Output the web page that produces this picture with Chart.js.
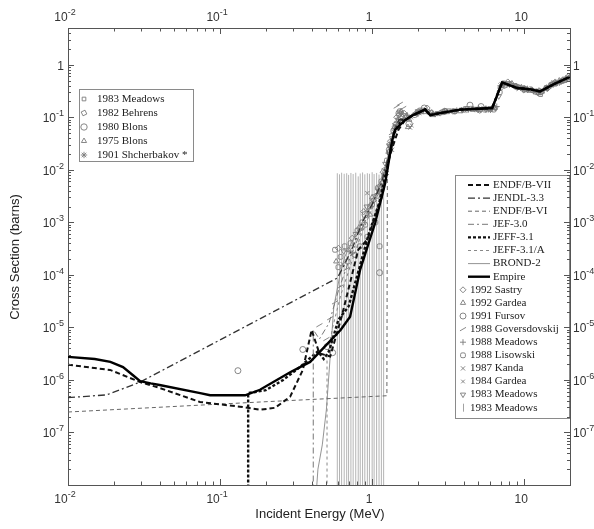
<!DOCTYPE html>
<html>
<head>
<meta charset="utf-8">
<script src="https://cdn.jsdelivr.net/npm/chart.js@4.4.0/dist/chart.umd.min.js"></script>
<style>
  body { margin: 0; background: #fff; }
</style>
</head>
<body>
<canvas id="xsChart" width="594" height="529"></canvas>
<script>
// axis ranges and tick decades
const xMin = 0.01, xMax = 20;
const yMin = 1e-8, yMax = 5;
const xDecades = [0.01, 0.1, 1, 10];
const yDecades = [1e-8, 1e-7, 1e-6, 1e-5, 1e-4, 1e-3, 1e-2, 1e-1, 1];
const xLabels = [['10', '-2'], ['10', '-1'], ['1', ''], ['10', '']];
const yLabels = [null, ['10', '-7'], ['10', '-6'], ['10', '-5'], ['10', '-4'], ['10', '-3'], ['10', '-2'], ['10', '-1'], ['1', '']];

// evaluations: [energy MeV, cross section b]; all share the high energy part
const tail = [[1.65, 0.089], [1.86, 0.11], [2.05, 0.125], [2.23, 0.14], [2.41, 0.11], [2.8, 0.12],
  [3.8, 0.14], [5.0, 0.145], [6.16, 0.15], [7.16, 0.46], [9.0, 0.36], [11.0, 0.34], [12.7, 0.31],
  [15.5, 0.42], [20.0, 0.59]];
const endfb7 = [[0.01, 1.95e-6], [0.0189, 1.55e-6], [0.0298, 9.1e-7], [0.0403, 7e-7], [0.0738, 3.8e-7],
  [0.135, 3.1e-7], [0.183, 2.7e-7], [0.23, 2.95e-7], [0.289, 4.8e-7], [0.35, 1.55e-6], [0.40, 8.9e-6],
  [0.45, 3.2e-6], [0.53, 2.8e-6], [0.63, 1.6e-5], [0.81, 3e-4], [0.93, 4.7e-4], [1.16, 3.1e-3],
  [1.31, 1.95e-2], [1.49, 5.8e-2]];
const jendl33 = [[0.01, 4.6e-7], [0.018, 5.2e-7], [0.0298, 9.1e-7], [0.59, 8.7e-5], [0.66, 1.6e-4],
  [0.75, 3.5e-4], [0.86, 1e-3], [1.0, 2.2e-3], [1.15, 5.5e-3], [1.28, 1.8e-2], [1.38, 5e-2], [1.5, 9e-2]];
const endfb6 = [[0.01, 2.45e-7], [0.183, 3.8e-7], [1.25, 5e-7], [1.26, 2.4e-2], [1.35, 4.5e-2], [1.45, 8e-2]];
const jef30 = [[0.41, 1e-9], [0.41, 9e-6], [0.45, 6e-6], [0.52, 1.2e-5], [0.6, 5e-5], [0.7, 1.8e-4],
  [0.82, 5.5e-4], [0.95, 1.5e-3], [1.1, 4.5e-3], [1.25, 1.4e-2], [1.38, 4.5e-2], [1.5, 8.5e-2]];
const jeff31 = [[0.153, 1e-9], [0.153, 5.6e-7], [0.2, 6.4e-7], [0.26, 1e-6], [0.33, 1.7e-6], [0.39, 2.6e-6],
  [0.44, 3.5e-6], [0.48, 2.5e-6], [0.52, 3.5e-6], [0.6, 1.4e-5], [0.7, 2.5e-5], [0.8, 1e-4],
  [0.95, 6e-4], [1.12, 2.5e-3], [1.28, 1.5e-2], [1.4, 5e-2], [1.55, 9e-2]];
const jeff31a = [[0.505, 1e-9], [0.505, 2.8e-6], [0.55, 1e-5], [0.62, 4e-5], [0.72, 1.5e-4], [0.85, 6e-4],
  [1.0, 1.8e-3], [1.15, 5e-3], [1.3, 2e-2], [1.42, 6e-2], [1.55, 9e-2]];
const brond2 = [[0.409, 1e-9], [0.44, 2e-8], [0.47, 5.8e-8], [0.5, 2.7e-7], [0.53, 2.8e-6], [0.56, 2.5e-5],
  [0.61, 9e-5], [0.66, 2.2e-4], [0.78, 6e-4], [0.9, 1.3e-3], [1.05, 3e-3], [1.2, 9e-3], [1.32, 3e-2],
  [1.45, 8e-2]];
const empire = [[0.01, 2.75e-6], [0.015, 2.5e-6], [0.019, 2.2e-6], [0.023, 1.75e-6], [0.027, 1.2e-6],
  [0.0298, 9.5e-7], [0.035, 8.6e-7], [0.04, 8e-7], [0.074, 5.6e-7], [0.086, 5.1e-7], [0.146, 5.1e-7],
  [0.183, 6.5e-7], [0.289, 1.4e-6], [0.391, 2.2e-6], [0.62, 8.9e-6], [0.716, 1.6e-5], [0.834, 1.26e-4],
  [1.047, 9.8e-4], [1.219, 5.6e-3], [1.356, 3.7e-2], [1.417, 5.8e-2]];

// measurements
const sastry92 = [[0.6, 3.2e-4], [0.74, 5e-4], [0.88, 1.6e-3], [1.02, 2.6e-3], [1.18, 9e-3], [1.32, 3.5e-2],
  [1.45, 0.1], [1.62, 0.12], [1.95, 0.12], [2.3, 0.15], [2.8, 0.12], [3.4, 0.13], [4.2, 0.14], [5.1, 0.135],
  [6.0, 0.14], [6.3, 0.16], [7.0, 0.36], [7.8, 0.47], [8.8, 0.39], [10.0, 0.36], [11.2, 0.33], [12.5, 0.32],
  [14.2, 0.35], [16.0, 0.47], [18.0, 0.52], [19.5, 0.6]];
const gardea92 = [[0.58, 1.8e-4], [0.7, 3e-4], [0.82, 8e-4], [0.97, 1.4e-3], [1.12, 5e-3], [1.28, 2.2e-2],
  [1.4, 6.5e-2], [1.55, 0.13], [1.75, 0.09], [2.1, 0.13], [2.5, 0.11], [3.1, 0.125], [3.8, 0.13],
  [4.6, 0.14], [5.6, 0.145], [6.4, 0.15], [7.2, 0.43], [8.3, 0.44], [9.6, 0.37], [11.0, 0.32], [12.4, 0.29],
  [13.8, 0.35], [15.2, 0.44], [17.0, 0.5], [18.8, 0.55]];
const fursov91 = [[0.131, 1.5e-6], [0.35, 3.8e-6], [0.505, 4.3e-6], [0.55, 3.3e-6], [1.12, 1.1e-4],
  [1.5, 0.12], [2.2, 0.15], [3.0, 0.13], [4.4, 0.17], [5.2, 0.16]];
const goversdovskij88 = [[0.45, 1.1e-5], [0.5, 6e-6], [0.53, 1.5e-5], [0.57, 3e-5], [0.62, 6e-5], [0.68, 1.3e-4],
  [0.75, 2.5e-4], [0.85, 7e-4], [0.95, 1.8e-3], [1.05, 3.5e-3], [1.2, 1.1e-2], [1.35, 5e-2], [1.45, 0.16],
  [1.5, 0.1], [1.52, 0.18], [1.6, 0.15], [1.8, 0.11], [2.2, 0.14], [2.6, 0.12]];
const meadows88 = [[1.3, 3e-2], [1.45, 8e-2], [1.7, 0.11], [2.0, 0.115], [2.5, 0.12], [3.0, 0.13], [3.6, 0.135],
  [4.3, 0.14], [5.0, 0.15], [5.8, 0.14], [6.6, 0.16], [7.0, 0.38], [7.6, 0.42], [8.5, 0.4], [9.5, 0.36],
  [10.5, 0.35], [12.0, 0.3], [13.5, 0.33], [15.0, 0.4], [17.0, 0.45], [19.0, 0.52]];
const lisowski88 = [[0.57, 3e-4], [0.6, 1.4e-4], [0.62, 2.2e-4], [0.66, 3.5e-4], [0.69, 1.8e-4], [0.72, 4e-4],
  [0.77, 2.4e-4], [0.8, 7e-4], [0.83, 3.5e-4], [0.86, 1e-3], [0.9, 9e-4], [0.93, 5.3e-4], [0.97, 2e-3],
  [1.0, 2.2e-3], [1.05, 1e-3], [1.08, 3.2e-3], [1.12, 3.5e-4], [1.15, 6e-3], [1.25, 1.5e-2],
  [1.38, 5.5e-2], [1.52, 0.13], [1.68, 0.1], [1.9, 0.11], [2.2, 0.13], [2.45, 0.12], [2.9, 0.125],
  [3.5, 0.13], [4.5, 0.145], [5.5, 0.14], [6.3, 0.14], [6.9, 0.3], [7.3, 0.44], [8.0, 0.43], [9.0, 0.38],
  [10.0, 0.34], [11.0, 0.34], [12.5, 0.3], [14.0, 0.36], [16.0, 0.44], [18.0, 0.5], [20.0, 0.57]];
const kanda87 = [[0.64, 1.6e-4], [0.73, 2.7e-4], [0.93, 3.6e-3], [1.0, 2.5e-3], [1.12, 3.6e-3], [1.25, 8.7e-3],
  [1.35, 2.4e-2], [1.4, 7e-2], [1.8, 0.1], [2.4, 0.13], [3.2, 0.13], [4.0, 0.14], [4.8, 0.14], [5.4, 0.15],
  [6.2, 0.145], [7.1, 0.42], [8.2, 0.4], [9.2, 0.35], [10.8, 0.33], [12.0, 0.32], [13.0, 0.33],
  [14.5, 0.38], [16.5, 0.46], [19.5, 0.55]];
const gardea84 = [[1.3, 2.5e-2], [1.6, 0.1], [1.78, 0.063], [1.82, 0.07], [2.05, 0.12], [2.7, 0.115],
  [3.3, 0.13], [4.0, 0.13], [4.9, 0.135], [5.9, 0.14]];
const meadows83 = [[0.65, 2.8e-4], [0.78, 6e-4], [0.92, 2e-3], [1.1, 4e-3], [1.22, 1.3e-2], [1.35, 4e-2],
  [1.48, 0.09], [1.55, 0.12], [1.65, 0.11], [1.75, 0.1], [2.0, 0.13], [2.1, 0.14], [2.3, 0.13], [2.6, 0.115],
  [2.7, 0.12], [3.2, 0.135], [3.5, 0.13], [3.9, 0.14], [4.2, 0.15], [4.7, 0.145], [5.2, 0.14], [5.6, 0.14],
  [6.0, 0.15], [6.5, 0.15], [6.8, 0.25], [7.4, 0.45], [7.8, 0.44], [8.6, 0.41], [9.2, 0.38], [9.8, 0.36],
  [10.5, 0.33], [11.5, 0.32], [12.3, 0.29], [13.2, 0.32], [14.2, 0.37], [15.5, 0.42], [16.5, 0.46],
  [17.5, 0.48], [19.0, 0.54]];
// error bars: energy and upper end (lower end is off the axis)
const meadows83Bars = [[0.59, 8.6e-3], [0.61, 8.2e-3], [0.63, 8.8e-3], [0.655, 8.4e-3], [0.68, 8.6e-3],
  [0.70, 8e-3], [0.725, 8.7e-3], [0.75, 8.3e-3], [0.78, 8.8e-3], [0.81, 7.5e-3], [0.835, 8.5e-3],
  [0.865, 8.9e-3], [0.895, 8.2e-3], [0.93, 8.6e-3], [0.96, 8.4e-3], [1.0, 9e-3], [1.03, 8.3e-3],
  [1.07, 8.7e-3], [1.11, 8.1e-3], [1.15, 8.5e-3], [1.19, 8.8e-3]];
const meadows83b = [[7.2, 0.4], [8.8, 0.38], [10.2, 0.35], [11.8, 0.3], [12.8, 0.27], [14.0, 0.35],
  [15.0, 0.42], [16.0, 0.43], [18.5, 0.5]];
const behrens82 = [[1.3, 3e-2], [1.5, 0.11], [2.0, 0.12], [3.0, 0.13], [5.0, 0.14], [7.5, 0.4], [10.0, 0.33],
  [13.0, 0.3], [15.0, 0.41], [17.5, 0.48]];
const blons80 = [[0.9, 1.4e-3], [1.1, 4.5e-3], [1.3, 2.4e-2], [1.55, 0.1], [1.75, 0.075]];
const blons75 = [[1.0, 3e-3], [1.2, 9e-3], [1.42, 7.5e-2], [1.72, 0.065], [2.1, 0.125]];
const shcherbakov = [[1.4, 0.06], [2.0, 0.13], [3.0, 0.13], [4.0, 0.14], [5.0, 0.14], [6.0, 0.14], [7.0, 0.4],
  [8.0, 0.43], [9.0, 0.37], [10.0, 0.34], [12.0, 0.31], [14.0, 0.36], [16.0, 0.45], [18.0, 0.5], [20.0, 0.58]];

const toXY = pts => pts.map(p => ({ x: p[0], y: p[1] }));
const datasets = [];

function addLine(key, label, pts, color, width, dash) {
  datasets.push({
    key, label, type: 'line', data: toXY(pts), borderColor: color, borderWidth: width,
    borderDash: dash, pointRadius: 0, tension: 0, fill: false, order: 0
  });
}
function addMarks(key, label, pts, style, radius, rotation) {
  datasets.push({
    key, label, type: 'line', showLine: false, data: toXY(pts), pointStyle: style,
    pointRadius: radius, pointRotation: rotation || 0, borderColor: '#7a7a7a',
    backgroundColor: 'rgba(0,0,0,0)', pointBorderWidth: 0.9, order: 1
  });
}

addLine('empire', 'Empire', empire.concat(tail), '#000', 2.4, []);
addLine('endfb7', 'ENDF/B-VII', endfb7.concat(tail), '#111', 2, [5, 3]);
addLine('jendl', 'JENDL-3.3', jendl33.concat(tail), '#333', 1.3, [7, 3, 2, 3]);
addLine('endfb6', 'ENDF/B-VI', endfb6.concat(tail), '#666', 1, [4, 3]);
addLine('jef30', 'JEF-3.0', jef30.concat(tail), '#777', 1, [6, 3, 2, 3]);
addLine('jeff31', 'JEFF-3.1', jeff31.concat(tail), '#111', 2.4, [3, 2]);
addLine('jeff31a', 'JEFF-3.1/A', jeff31a.concat(tail), '#888', 1, [3, 3]);
addLine('brond', 'BROND-2', brond2.concat(tail), '#888', 0.9, []);

addMarks('sastry', '1992 Sastry', sastry92, 'rectRot', 3);
addMarks('gardea92', '1992 Gardea', gardea92, 'triangle', 3);
addMarks('fursov', '1991 Fursov', fursov91, 'circle', 3);
addMarks('gover', '1988 Goversdovskij', goversdovskij88, 'line', 3.5, -30);
addMarks('meadows88', '1988 Meadows', meadows88, 'cross', 3);
addMarks('lisowski', '1988 Lisowski', lisowski88, 'rectRounded', 2.8);
addMarks('kanda', '1987 Kanda', kanda87, 'crossRot', 3);
addMarks('gardea84', '1984 Gardea', gardea84, 'crossRot', 2.6);
addMarks('meadows83t', '1983 Meadows', meadows83, 'triangle', 3, 180);
addMarks('meadows83r', '1983 Meadows', meadows83b, 'rect', 2.6);
addMarks('behrens', '1982 Behrens', behrens82, 'rectRot', 3, 20);
addMarks('blons80', '1980 Blons', blons80, 'circle', 3.2);
addMarks('blons75', '1975 Blons', blons75, 'triangle', 3);
addMarks('shcherb', '1901 Shcherbakov *', shcherbakov, 'star', 3.2);

// error bars as broken line segments
const barPts = [];
meadows83Bars.forEach(b => {
  barPts.push({ x: b[0], y: 1e-9 }, { x: b[0], y: b[1] }, { x: b[0], y: null });
});
datasets.push({
  key: 'meadows83bar', label: '1983 Meadows', type: 'line', data: barPts, borderColor: '#b4b4b4',
  borderWidth: 1, pointRadius: 0, spanGaps: false, tension: 0, fill: false, order: 2
});

const leftLegend = ['meadows83r', 'behrens', 'blons80', 'blons75', 'shcherb'];
const rightLegend = ['endfb7', 'jendl', 'endfb6', 'jef30', 'jeff31', 'jeff31a', 'brond', 'empire',
  'sastry', 'gardea92', 'fursov', 'gover', 'meadows88', 'lisowski', 'kanda', 'gardea84',
  'meadows83t', 'meadows83bar'];

function logAxis(pos, min, max, size) {
  return {
    type: 'logarithmic', position: pos, min: min, max: max,
    ticks: { display: false },
    grid: { display: false },
    border: { display: true, color: '#555', width: 1 },
    afterFit: function (s) {
      if (s.isHorizontal()) s.height = size; else s.width = size;
    }
  };
}

function drawPow(ctx, parts, x, y, align) {
  ctx.font = '12px "Liberation Sans"';
  const w1 = ctx.measureText(parts[0]).width;
  ctx.font = '9px "Liberation Sans"';
  const w2 = parts[1] ? ctx.measureText(parts[1]).width : 0;
  let start = x;
  if (align === 'center') start = x - (w1 + w2) / 2;
  if (align === 'right') start = x - w1 - w2;
  ctx.textAlign = 'left';
  ctx.textBaseline = 'alphabetic';
  ctx.font = '12px "Liberation Sans"';
  ctx.fillText(parts[0], start, y);
  if (parts[1]) {
    ctx.font = '9px "Liberation Sans"';
    ctx.fillText(parts[1], start + w1, y - 6);
  }
}

const legendPlugin = {
  id: 'boxLegends',
  afterDatasetsDraw(chart) {
    const ctx = chart.ctx;
    const byKey = {};
    chart.data.datasets.forEach(d => { byKey[d.key] = d; });

    function box(keys, x, y, w, h, rowY, step, markX, lineX1, lineX2, textLine, textMark) {
      ctx.save();
      ctx.fillStyle = '#fff';
      ctx.fillRect(x, y, w, h);
      ctx.strokeStyle = '#8a8a8a';
      ctx.lineWidth = 1;
      ctx.strokeRect(x + 0.5, y + 0.5, w, h);
      keys.forEach((k, i) => {
        const d = byKey[k];
        const cy = rowY + i * step;
        ctx.font = '11px "Liberation Serif"';
        ctx.fillStyle = '#222';
        ctx.textBaseline = 'middle';
        ctx.textAlign = 'left';
        if (d.showLine === false || k === 'meadows83bar') {
          ctx.strokeStyle = k === 'meadows83bar' ? '#999' : d.borderColor;
          ctx.fillStyle = 'rgba(0,0,0,0)';
          ctx.lineWidth = 0.9;
          if (k === 'meadows83bar') {
            ctx.beginPath(); ctx.moveTo(markX + 0.5, cy - 4); ctx.lineTo(markX + 0.5, cy + 4); ctx.stroke();
          } else {
            Chart.helpers.drawPoint(ctx, {
              pointStyle: d.pointStyle, radius: d.pointRadius, rotation: d.pointRotation, borderWidth: 0.9
            }, markX, cy);
          }
          ctx.fillStyle = '#222';
          ctx.fillText(d.label, textMark, cy);
        } else {
          ctx.strokeStyle = d.borderColor;
          ctx.lineWidth = d.borderWidth;
          ctx.setLineDash(d.borderDash);
          ctx.beginPath(); ctx.moveTo(lineX1, cy); ctx.lineTo(lineX2, cy); ctx.stroke();
          ctx.setLineDash([]);
          ctx.fillText(d.label, textLine, cy);
        }
      });
      ctx.restore();
    }

    box(leftLegend, 79, 89, 114, 72, 99, 14, 84, 0, 0, 0, 97);
    box(rightLegend, 455, 175, 114, 243, 185, 13.1, 463, 468, 490, 493, 470);
  }
};

const framePlugin = {
  id: 'frameTicks',
  afterDraw(chart) {
    const ctx = chart.ctx;
    const area = chart.chartArea;
    const sx = chart.scales.x, sy = chart.scales.y;
    ctx.save();
    ctx.strokeStyle = '#555';
    ctx.lineWidth = 1;
    ctx.beginPath();
    xDecades.forEach(d => {
      for (let m = 1; m <= 9; m++) {
        const v = m * d;
        if (v < xMin || v > xMax) continue;
        const px = Math.round(sx.getPixelForValue(v)) + 0.5;
        const len = m === 1 ? 6 : 3.5;
        ctx.moveTo(px, area.bottom); ctx.lineTo(px, area.bottom - len);
        ctx.moveTo(px, area.top); ctx.lineTo(px, area.top + len);
      }
    });
    yDecades.forEach(d => {
      for (let m = 1; m <= 9; m++) {
        const v = m * d;
        if (v < yMin || v > yMax) continue;
        const py = Math.round(sy.getPixelForValue(v)) + 0.5;
        const len = m === 1 ? 6 : 3;
        ctx.moveTo(area.left, py); ctx.lineTo(area.left + len, py);
        ctx.moveTo(area.right, py); ctx.lineTo(area.right - len, py);
      }
    });
    ctx.stroke();

    ctx.fillStyle = '#333';
    xDecades.forEach((v, i) => {
      const px = sx.getPixelForValue(v) - 3;
      drawPow(ctx, xLabels[i], px, 21, 'center');
      drawPow(ctx, xLabels[i], px, 503, 'center');
    });
    yDecades.forEach((v, i) => {
      if (!yLabels[i]) return;
      const py = sy.getPixelForValue(v);
      drawPow(ctx, yLabels[i], 64, py + 5, 'right');
      drawPow(ctx, yLabels[i], 573, py + 5, 'left');
    });

    ctx.font = '13px "Liberation Sans"';
    ctx.fillStyle = '#222';
    ctx.textAlign = 'center';
    ctx.textBaseline = 'middle';
    ctx.fillText('Incident Energy (MeV)', 320, 514);
    ctx.translate(15, 257);
    ctx.rotate(-Math.PI / 2);
    ctx.fillText('Cross Section (barns)', 0, 0);
    ctx.restore();
  }
};

new Chart(document.getElementById('xsChart').getContext('2d'), {
  type: 'line',
  data: { datasets: datasets },
  options: {
    responsive: false,
    animation: false,
    parsing: true,
    layout: { padding: 0 },
    scales: {
      x: logAxis('bottom', xMin, xMax, 44),
      x2: logAxis('top', xMin, xMax, 28),
      y: logAxis('left', yMin, yMax, 68),
      y2: logAxis('right', yMin, yMax, 24)
    },
    plugins: {
      legend: { display: false },
      tooltip: { enabled: false }
    }
  },
  plugins: [legendPlugin, framePlugin]
});
</script>
</body>
</html>
